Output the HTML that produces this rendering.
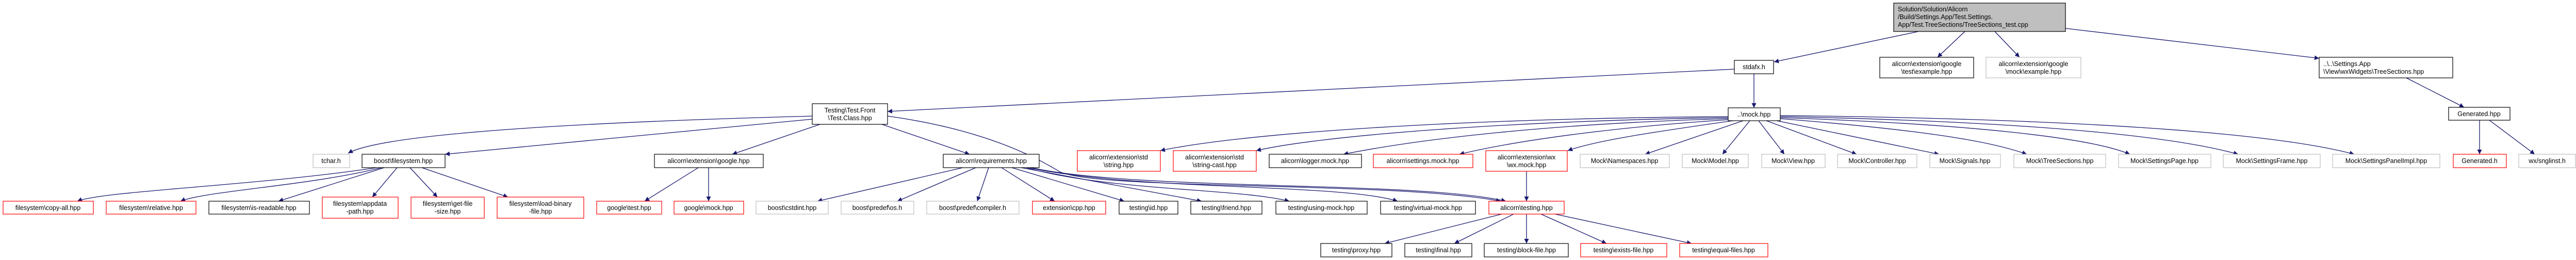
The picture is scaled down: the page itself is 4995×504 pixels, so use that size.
<!DOCTYPE html>
<html><head><meta charset="utf-8"><style>
html,body{margin:0;padding:0;background:#fff;}
svg{display:block;}
text{font-family:"Liberation Sans",sans-serif;font-size:12.5px;fill:#000;}
.e{fill:none;stroke:#191970;stroke-width:1.3;marker-end:url(#a);}
.b{fill:#fff;stroke:#000;stroke-width:1.2;}
.g{fill:#fff;stroke:#bfbfbf;stroke-width:1.2;}
.r{fill:#fff;stroke:#ff0000;stroke-width:1.2;}
</style></head><body>
<svg width="4995" height="504" viewBox="0 0 4995 504" xmlns="http://www.w3.org/2000/svg">
<defs><marker id="a" viewBox="0 0 10 10" refX="10" refY="5" markerWidth="9" markerHeight="9" markerUnits="userSpaceOnUse" orient="auto"><path d="M0,0 L10,5 L0,10 z" fill="#191970"/></marker></defs>

<!-- edges -->
<path class="e" d="M3720,61 L3440,120"/>
<path class="e" d="M3810,61 L3757,111"/>
<path class="e" d="M3868,61 L3916,111"/>
<path class="e" d="M4005,55 L4497,113"/>
<path class="e" d="M4666,151 L4778,208"/>
<path class="e" d="M4808,233 L4808,299"/>
<path class="e" d="M4827,233 L4915,299"/>
<path class="e" d="M3363,134 L1721,216"/>
<path class="e" d="M3401,143 L3401,209"/>
<path class="e" d="M1575,225 C1200,235 750,255 675,297"/>
<path class="e" d="M1575,231 L863,299"/>
<path class="e" d="M1590,241 L1420,299"/>
<path class="e" d="M1710,241 L1880,299"/>
<path class="e" d="M1721,225 C1900,250 2000,300 2050,330 C2100,370 2700,350 2910,390"/>
<path class="e" d="M730,325 C500,360 200,370 150,390"/>
<path class="e" d="M740,325 C600,360 400,370 350,390"/>
<path class="e" d="M745,325 L540,390"/>
<path class="e" d="M770,325 L722,382"/>
<path class="e" d="M795,325 L848,382"/>
<path class="e" d="M818,325 L985,382"/>
<path class="e" d="M1354,325 L1250,390"/>
<path class="e" d="M1374,325 L1374,390"/>
<path class="e" d="M1867,325 L1585,390"/>
<path class="e" d="M1892,325 L1740,390"/>
<path class="e" d="M1917,325 L1895,390"/>
<path class="e" d="M1942,325 L2045,390"/>
<path class="e" d="M1962,325 L2180,390"/>
<path class="e" d="M1980,325 L2330,390"/>
<path class="e" d="M1990,325 C2150,370 2400,365 2500,390"/>
<path class="e" d="M1995,325 C2200,370 2600,355 2710,390"/>
<path class="e" d="M2000,325 C2200,370 2750,350 2920,390"/>
<path class="e" d="M3351,226 C2800,230 2400,260 2250,292"/>
<path class="e" d="M3351,228 C2900,235 2550,265 2436,292"/>
<path class="e" d="M3351,230 C3000,240 2750,270 2605,299"/>
<path class="e" d="M3352,232 C3150,245 2950,270 2830,299"/>
<path class="e" d="M3360,234 C3250,250 3100,270 3040,292"/>
<path class="e" d="M3380,234 L3190,299"/>
<path class="e" d="M3393,234 L3340,299"/>
<path class="e" d="M3410,234 L3460,299"/>
<path class="e" d="M3425,234 L3600,299"/>
<path class="e" d="M3445,234 L3760,299"/>
<path class="e" d="M3452,230 C3700,250 3850,270 3930,299"/>
<path class="e" d="M3452,228 C3800,240 4050,265 4130,299"/>
<path class="e" d="M3452,226 C3900,235 4200,260 4340,299"/>
<path class="e" d="M3452,224 C4000,230 4400,255 4565,299"/>
<path class="e" d="M2960,332 L2960,390"/>
<path class="e" d="M2912,415 L2685,472"/>
<path class="e" d="M2935,415 L2820,472"/>
<path class="e" d="M2960,415 L2960,472"/>
<path class="e" d="M2988,415 L3115,472"/>
<path class="e" d="M3015,415 L3280,472"/>

<!-- root -->
<rect x="3672" y="6" width="333" height="55" fill="#bfbfbf" stroke="#000" stroke-width="1.2"/>
<text x="3680" y="22">Solution/Solution/Alicorn</text>
<text x="3680" y="37">/Build/Settings.App/Test.Settings.</text>
<text x="3680" y="52">App/Test.TreeSections/TreeSections_test.cpp</text>

<rect class="b" x="3363" y="117" width="76" height="26"/><text x="3401" y="134" text-anchor="middle">stdafx.h</text>
<rect class="b" x="3645" y="111" width="182" height="40"/><text x="3736" y="128" text-anchor="middle">alicorn\extension\google</text><text x="3736" y="143" text-anchor="middle">\test\example.hpp</text>
<rect class="g" x="3851" y="111" width="184" height="40"/><text x="3943" y="128" text-anchor="middle">alicorn\extension\google</text><text x="3943" y="143" text-anchor="middle">\mock\example.hpp</text>
<rect class="b" x="4497" y="111" width="259" height="40"/><text x="4505" y="128">..\..\Settings.App</text><text x="4505" y="143">\View\wxWidgets\TreeSections.hpp</text>
<rect class="b" x="4748" y="208" width="119" height="25"/><text x="4807" y="225" text-anchor="middle">Generated.hpp</text>
<rect class="b" x="3351" y="209" width="101" height="25"/><text x="3401" y="226" text-anchor="middle">..\mock.hpp</text>
<rect class="b" x="1575" y="201" width="146" height="40"/><text x="1648" y="218" text-anchor="middle">Testing\Test.Front</text><text x="1648" y="233" text-anchor="middle">\Test.Class.hpp</text>

<!-- row 2 -->
<rect class="g" x="607" y="299" width="71" height="26"/><text x="642" y="316" text-anchor="middle">tchar.h</text>
<rect class="b" x="702" y="299" width="161" height="26"/><text x="782" y="316" text-anchor="middle">boost\filesystem.hpp</text>
<rect class="b" x="1269" y="299" width="211" height="26"/><text x="1374" y="316" text-anchor="middle">alicorn\extension\google.hpp</text>
<rect class="b" x="1829" y="299" width="186" height="26"/><text x="1922" y="316" text-anchor="middle">alicorn\requirements.hpp</text>
<rect class="r" x="2089" y="292" width="161" height="40"/><text x="2169" y="309" text-anchor="middle">alicorn\extension\std</text><text x="2169" y="324" text-anchor="middle">\string.hpp</text>
<rect class="r" x="2275" y="292" width="161" height="40"/><text x="2355" y="309" text-anchor="middle">alicorn\extension\std</text><text x="2355" y="324" text-anchor="middle">\string-cast.hpp</text>
<rect class="b" x="2461" y="299" width="179" height="26"/><text x="2550" y="316" text-anchor="middle">alicorn\logger.mock.hpp</text>
<rect class="r" x="2663" y="299" width="193" height="26"/><text x="2759" y="316" text-anchor="middle">alicorn\settings.mock.hpp</text>
<rect class="r" x="2881" y="292" width="158" height="40"/><text x="2960" y="309" text-anchor="middle">alicorn\extension\wx</text><text x="2960" y="324" text-anchor="middle">\wx.mock.hpp</text>
<rect class="g" x="3064" y="299" width="173" height="26"/><text x="3150" y="316" text-anchor="middle">Mock\Namespaces.hpp</text>
<rect class="g" x="3262" y="299" width="128" height="26"/><text x="3326" y="316" text-anchor="middle">Mock\Model.hpp</text>
<rect class="g" x="3416" y="299" width="123" height="26"/><text x="3477" y="316" text-anchor="middle">Mock\View.hpp</text>
<rect class="g" x="3563" y="299" width="154" height="26"/><text x="3640" y="316" text-anchor="middle">Mock\Controller.hpp</text>
<rect class="g" x="3742" y="299" width="137" height="26"/><text x="3810" y="316" text-anchor="middle">Mock\Signals.hpp</text>
<rect class="g" x="3905" y="299" width="178" height="26"/><text x="3994" y="316" text-anchor="middle">Mock\TreeSections.hpp</text>
<rect class="g" x="4108" y="299" width="179" height="26"/><text x="4197" y="316" text-anchor="middle">Mock\SettingsPage.hpp</text>
<rect class="g" x="4311" y="299" width="188" height="26"/><text x="4405" y="316" text-anchor="middle">Mock\SettingsFrame.hpp</text>
<rect class="g" x="4523" y="299" width="208" height="26"/><text x="4627" y="316" text-anchor="middle">Mock\SettingsPanelImpl.hpp</text>
<rect class="r" x="4757" y="299" width="103" height="26"/><text x="4808" y="316" text-anchor="middle">Generated.h</text>
<rect class="g" x="4884" y="299" width="110" height="26"/><text x="4939" y="316" text-anchor="middle">wx/snglinst.h</text>

<!-- row 3 -->
<rect class="r" x="6" y="390" width="175" height="25"/><text x="93" y="407" text-anchor="middle">filesystem\copy-all.hpp</text>
<rect class="r" x="206" y="390" width="174" height="25"/><text x="293" y="407" text-anchor="middle">filesystem\relative.hpp</text>
<rect class="b" x="405" y="390" width="195" height="25"/><text x="502" y="407" text-anchor="middle">filesystem\is-readable.hpp</text>
<rect class="r" x="625" y="382" width="147" height="41"/><text x="698" y="399" text-anchor="middle">filesystem\appdata</text><text x="698" y="414" text-anchor="middle">-path.hpp</text>
<rect class="r" x="797" y="382" width="142" height="41"/><text x="868" y="399" text-anchor="middle">filesystem\get-file</text><text x="868" y="414" text-anchor="middle">-size.hpp</text>
<rect class="r" x="964" y="382" width="168" height="41"/><text x="1048" y="399" text-anchor="middle">filesystem\load-binary</text><text x="1048" y="414" text-anchor="middle">-file.hpp</text>
<rect class="r" x="1157" y="390" width="126" height="25"/><text x="1220" y="407" text-anchor="middle">google\test.hpp</text>
<rect class="r" x="1307" y="390" width="135" height="25"/><text x="1374" y="407" text-anchor="middle">google\mock.hpp</text>
<rect class="g" x="1466" y="390" width="140" height="25"/><text x="1536" y="407" text-anchor="middle">boost\cstdint.hpp</text>
<rect class="g" x="1631" y="390" width="141" height="25"/><text x="1701" y="407" text-anchor="middle">boost\predef\os.h</text>
<rect class="g" x="1797" y="390" width="179" height="25"/><text x="1886" y="407" text-anchor="middle">boost\predef\compiler.h</text>
<rect class="r" x="2002" y="390" width="142" height="25"/><text x="2073" y="407" text-anchor="middle">extension\cpp.hpp</text>
<rect class="b" x="2170" y="390" width="114" height="25"/><text x="2227" y="407" text-anchor="middle">testing\id.hpp</text>
<rect class="b" x="2309" y="390" width="138" height="25"/><text x="2378" y="407" text-anchor="middle">testing\friend.hpp</text>
<rect class="b" x="2474" y="390" width="177" height="25"/><text x="2562" y="407" text-anchor="middle">testing\using-mock.hpp</text>
<rect class="b" x="2677" y="390" width="184" height="25"/><text x="2769" y="407" text-anchor="middle">testing\virtual-mock.hpp</text>
<rect class="r" x="2887" y="390" width="146" height="25"/><text x="2960" y="407" text-anchor="middle">alicorn\testing.hpp</text>

<!-- row 4 -->
<rect class="b" x="2561" y="472" width="138" height="26"/><text x="2630" y="489" text-anchor="middle">testing\proxy.hpp</text>
<rect class="b" x="2724" y="472" width="130" height="26"/><text x="2789" y="489" text-anchor="middle">testing\final.hpp</text>
<rect class="b" x="2878" y="472" width="163" height="26"/><text x="2960" y="489" text-anchor="middle">testing\block-file.hpp</text>
<rect class="r" x="3065" y="472" width="167" height="26"/><text x="3148" y="489" text-anchor="middle">testing\exists-file.hpp</text>
<rect class="r" x="3257" y="472" width="171" height="26"/><text x="3342" y="489" text-anchor="middle">testing\equal-files.hpp</text>
</svg>
</body></html>
